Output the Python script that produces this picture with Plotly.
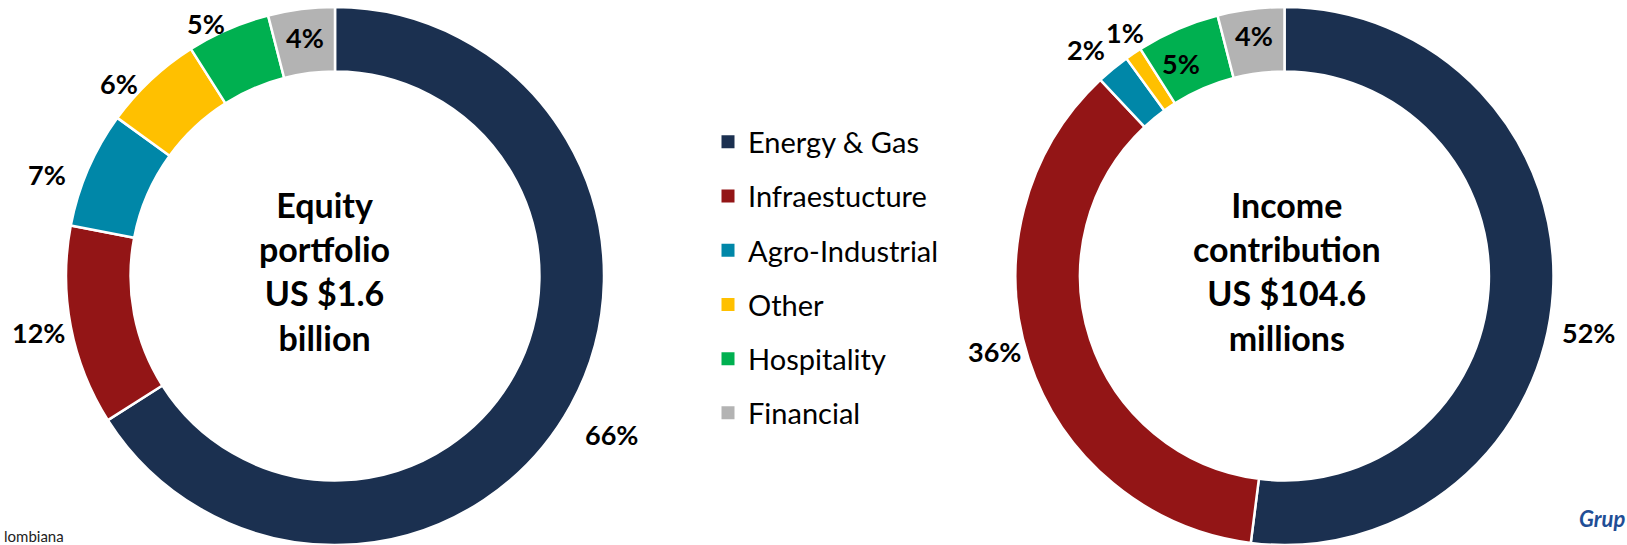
import math
import plotly.graph_objects as go

# ---------------- data ----------------
categories = ["Energy & Gas", "Infraestucture", "Agro-Industrial", "Other", "Hospitality", "Financial"]
equity_pct = [66, 12, 7, 6, 5, 4]
income_pct = [52, 36, 2, 1, 5, 4]
equity_title = ["Equity", "portfolio", "US $1.6", "billion"]
income_title = ["Income", "contribution", "US $104.6", "millions"]
footnote_text = "lombiana"
logo_text = "Grup"

# ---------------- style / layout ----------------
colors = ["#1B3050", "#931516", "#0087A8", "#FFC000", "#00B050", "#B3B3B3"]
W, H = 1627, 545
TOP = 7
R = (H - TOP) / 2
CY = TOP + R
LEFT_CX, RIGHT_CX = 335, 1284.5
HOLE = 0.76
# per-label placement: (radius factor, angular shift in degrees)
equity_label_style = [(1.186, 1), (1.123, 0), (1.134, -4), (1.076, -5), (1.053, -3.6), (0.892, 0)]
income_label_style = [(1.149, 7), (1.115, 3.5), (1.121, -1.6), (1.081, 1), (0.88, -2.5), (0.903, 0)]
equity_title_offset = (-11, -5)
income_title_offset = (2.5, -5)
LABEL_FONT = dict(family="Lato", size=27, color="#000000", weight="bold")
TITLE_FONT = dict(family="Lato", size=34, color="#000000", weight="bold")

fig = go.Figure()


def add_donut(values, cx, title_lines, label_style, title_offset, name):
    fig.add_trace(go.Pie(
        labels=categories, values=values, sort=False, direction="clockwise", rotation=0,
        hole=HOLE, textinfo="none", showlegend=False, name=name,
        marker=dict(colors=colors, line=dict(color="#FFFFFF", width=2.5)),
        domain=dict(x=[(cx - R) / W, (cx + R) / W], y=[0, 1]),
    ))
    total = sum(values)
    cum = 0
    for v, (rf, shift) in zip(values, label_style):
        mid = (cum + v / 2) / total * 360 + shift
        cum += v
        a = math.radians(mid)
        fig.add_annotation(
            x=cx + rf * R * math.sin(a), y=CY - rf * R * math.cos(a),
            xref="x", yref="y", text=f"{v}%", showarrow=False,
            font=LABEL_FONT, xanchor="center", yanchor="middle",
        )
    fig.add_annotation(
        x=cx + title_offset[0], y=CY + title_offset[1], xref="x", yref="y",
        text="<br>".join(title_lines), showarrow=False, font=TITLE_FONT,
        xanchor="center", yanchor="middle", align="center",
    )


add_donut(equity_pct, LEFT_CX, equity_title, equity_label_style, equity_title_offset, "Equity portfolio")
add_donut(income_pct, RIGHT_CX, income_title, income_label_style, income_title_offset, "Income contribution")

# legend entries
for c, col in zip(categories, colors):
    fig.add_trace(go.Scatter(
        x=[None], y=[None], mode="markers", name=c, legendgroup=c, showlegend=True,
        marker=dict(symbol="square", size=13, color=col),
    ))

fig.add_annotation(x=2, y=H, xref="x", yref="y", text=footnote_text, showarrow=False,
                   xanchor="left", yanchor="bottom", yshift=-2,
                   font=dict(family="Lato", size=15, color="#222222"))
fig.add_annotation(x=W, y=503, xref="x", yref="y", text=logo_text, showarrow=False,
                   xanchor="right", yanchor="top",
                   font=dict(family="Lato", size=22, color="#1F4E96", weight="bold", style="italic"))

fig.update_layout(
    width=W, height=H,
    margin=dict(l=0, r=0, t=TOP, b=0),
    paper_bgcolor="#FFFFFF", plot_bgcolor="rgba(0,0,0,0)",
    xaxis=dict(range=[0, W], visible=False, fixedrange=True),
    yaxis=dict(range=[H, TOP], visible=False, fixedrange=True),
    legend=dict(x=708 / W, xanchor="left", y=1 - (116.5 - TOP) / (H - TOP), yanchor="top",
                font=dict(family="Lato", size=29, color="#000000"),
                tracegroupgap=13.5, bgcolor="rgba(0,0,0,0)"),
)

fig.write_html("out.html")
